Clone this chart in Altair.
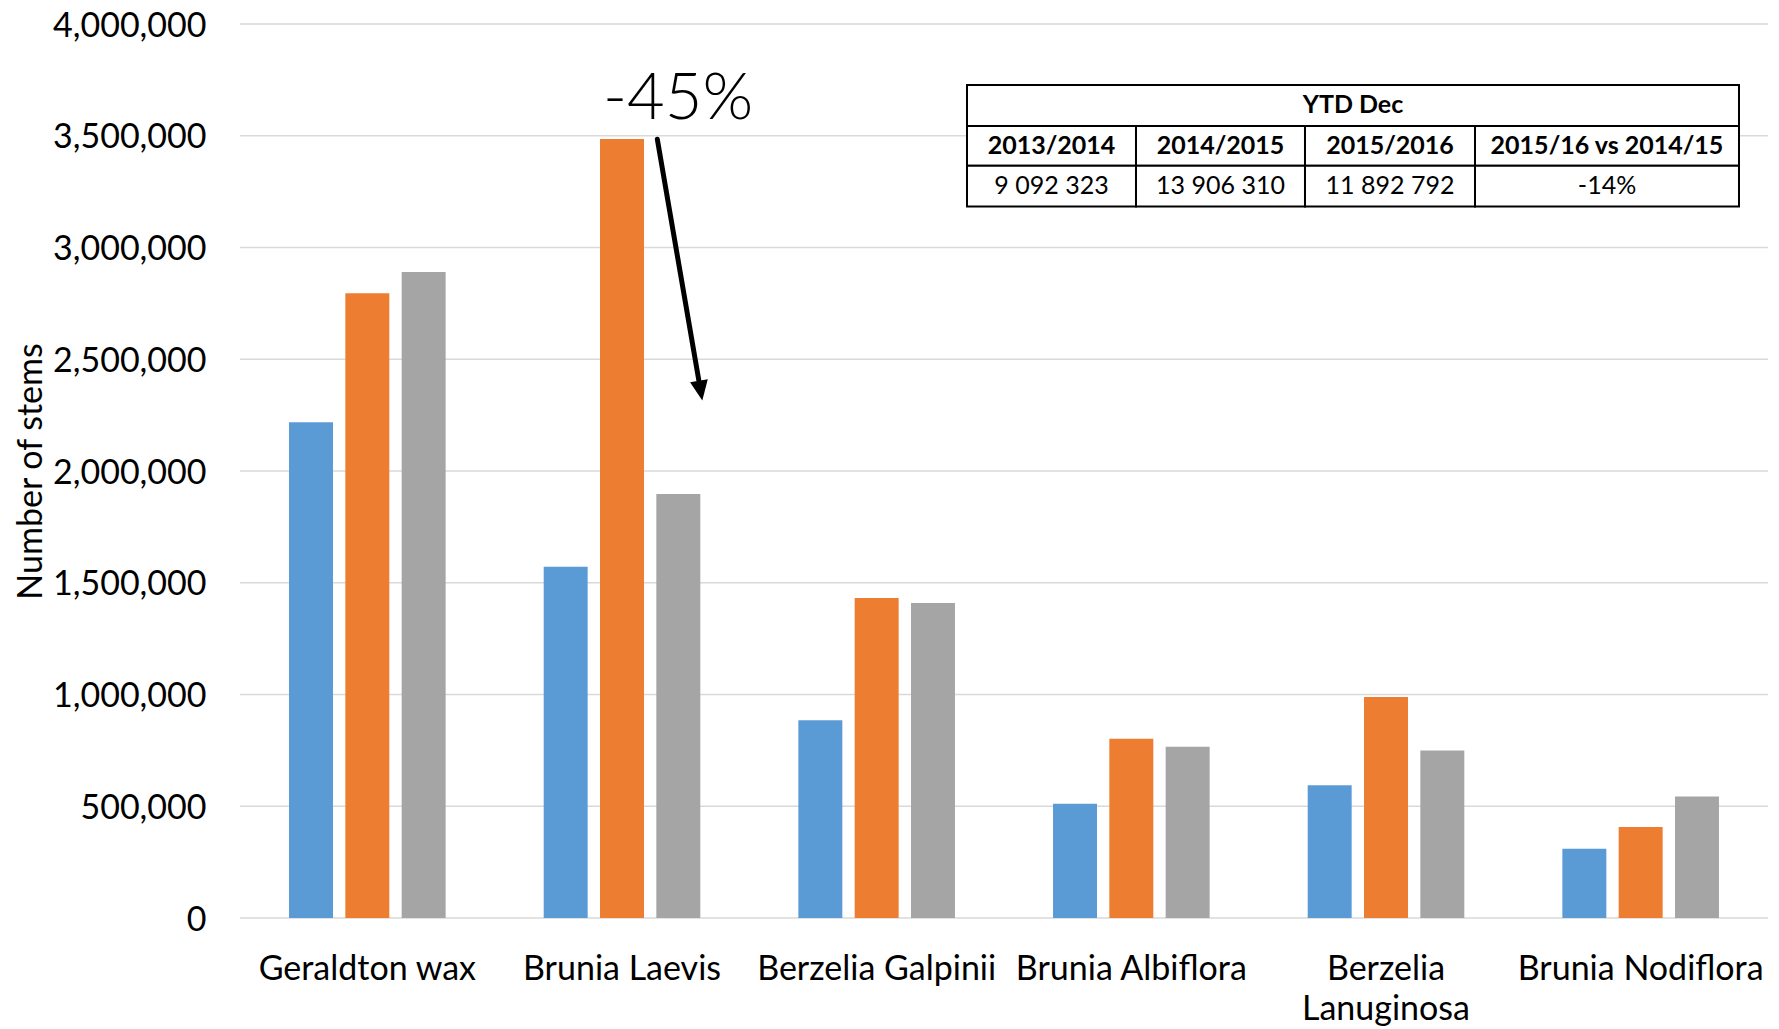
import altair as alt
import pandas as pd

# ---------------- data ----------------
categories = ["Geraldton wax", "Brunia Laevis", "Berzelia Galpinii",
              "Brunia Albiflora", "Berzelia Lanuginosa", "Brunia Nodiflora"]
series = ["2013/2014", "2014/2015", "2015/2016"]
values_1314 = [2218000, 1572000, 885000, 511000, 594000, 310000]
values_1415 = [2795000, 3485000, 1432000, 802000, 989000, 407000]
values_1516 = [2890000, 1897000, 1409000, 766000, 750000, 544000]
colors = ["#5b9bd5", "#ed7d31", "#a5a5a5"]
y_ticks = [0, 500000, 1000000, 1500000, 2000000, 2500000, 3000000, 3500000, 4000000]

table_title = "YTD Dec"
table_headers = ["2013/2014", "2014/2015", "2015/2016", "2015/16 vs 2014/15"]
table_values = ["9 092 323", "13 906 310", "11 892 792", "-14%"]
arrow_label = "-45%"

# ---------------- layout (annotation positions, in category units / data units) ----------------
col_edges = [2.8547, 3.5183, 4.1819, 4.8495, 5.8861]
row_edges = [3727400, 3544100, 3365400, 3183500]
arrow_start = (1.6386, 3484700)
arrow_base = (1.8020, 2403100)
arrow_head = (1.8087, 2359300)
arrow_text = (1.7199, 3574000)

FONT = "Lato"
W, H = 1528, 894
NO_VIEW = alt.ViewBackground(stroke="transparent", strokeWidth=0)

rows = []
for c, v1, v2, v3 in zip(categories, values_1314, values_1415, values_1516):
    for s, v in zip(series, [v1, v2, v3]):
        rows.append({"category": c, "series": s, "value": v})
df = pd.DataFrame(rows)

ax_scale = alt.Scale(domain=[0, 6], nice=False, zero=False)
ay_scale = alt.Scale(domain=[0, 4000000], nice=False)

# horizontal gridlines at the tick values
grid_df = pd.DataFrame({"v": y_ticks, "g0": 0.0, "g1": float(len(categories))})
grid = alt.Chart(grid_df).mark_rule(color="#d9d9d9", strokeWidth=1.5).encode(
    x=alt.X("g0:Q", scale=ax_scale, axis=None),
    x2="g1:Q",
    y=alt.Y("v:Q", scale=ay_scale, axis=None),
)

bars = alt.Chart(df).mark_bar().encode(
    x=alt.X("category:N", sort=categories,
            scale=alt.Scale(paddingInner=0.385, paddingOuter=0.1925),
            axis=alt.Axis(title=None, labelAngle=0, labelFont=FONT, labelFontSize=34,
                          labelColor="#000000", labelPadding=34, labelBaseline="top",
                          labelLineHeight=40, labelLimit=0, labelOverlap=False,
                          ticks=False, domain=False, grid=False,
                          labelExpr="datum.label == 'Berzelia Lanuginosa' ? ['Berzelia', 'Lanuginosa'] : datum.label")),
    xOffset=alt.XOffset("series:N", sort=series,
                        scale=alt.Scale(paddingInner=0.219, paddingOuter=0)),
    y=alt.Y("value:Q", scale=alt.Scale(domain=[0, 4000000], nice=False),
            axis=alt.Axis(title="Number of stems", values=y_ticks,
                          format=",d", labelFont=FONT, labelFontSize=34, labelColor="#000000",
                          labelPadding=34, labelOffset=2, ticks=False, domain=False, grid=False,
                          titleFont=FONT, titleFontSize=34, titleFontWeight="normal",
                          titleColor="#000000", titleAngle=-90, titleX=-199, titleY=H / 2,
                          titleBaseline="alphabetic", titleAlign="center")),
    color=alt.Color("series:N", sort=series,
                    scale=alt.Scale(domain=series, range=colors), legend=None),
)

# arrow
arrow_df = pd.DataFrame([{"x": arrow_start[0], "y": arrow_start[1],
                          "x2": arrow_base[0], "y2": arrow_base[1]}])
arrow_line = alt.Chart(arrow_df).mark_rule(color="#000000", strokeWidth=5, strokeCap="round").encode(
    x=alt.X("x:Q", scale=ax_scale, axis=None),
    x2="x2:Q",
    y=alt.Y("y:Q", scale=ay_scale, axis=None),
    y2="y2:Q",
)
head_df = pd.DataFrame([{"x": arrow_head[0], "y": arrow_head[1]}])
arrow_tip = alt.Chart(head_df).mark_point(
    shape="M0,1L-0.9,-1L0.9,-1Z", size=400, filled=True, color="#000000",
    opacity=1, strokeWidth=0, angle=350.24).encode(
    x=alt.X("x:Q", scale=ax_scale, axis=None),
    y=alt.Y("y:Q", scale=ay_scale, axis=None),
)
label_df = pd.DataFrame([{"x": arrow_text[0], "y": arrow_text[1], "t": arrow_label}])
arrow_txt = alt.Chart(label_df).mark_text(
    font=FONT, fontSize=65, fontWeight=300, color="#000000",
    align="center", baseline="alphabetic").encode(
    x=alt.X("x:Q", scale=ax_scale, axis=None),
    y=alt.Y("y:Q", scale=ay_scale, axis=None),
    text="t:N",
)

# table
cells = [{"x": col_edges[0], "x2": col_edges[-1], "y": row_edges[0], "y2": row_edges[1],
          "t": table_title, "w": "bold"}]
for i in range(4):
    cells.append({"x": col_edges[i], "x2": col_edges[i + 1], "y": row_edges[1], "y2": row_edges[2],
                  "t": table_headers[i], "w": "bold"})
    cells.append({"x": col_edges[i], "x2": col_edges[i + 1], "y": row_edges[2], "y2": row_edges[3],
                  "t": table_values[i], "w": "normal"})
cells_df = pd.DataFrame(cells)
cells_df["cx"] = (cells_df["x"] + cells_df["x2"]) / 2
cells_df["cy"] = (cells_df["y"] + cells_df["y2"]) / 2

table_rect = alt.Chart(cells_df).mark_rect(fill="#ffffff", stroke="#000000", strokeWidth=2).encode(
    x=alt.X("x:Q", scale=ax_scale, axis=None),
    x2="x2:Q",
    y=alt.Y("y:Q", scale=ay_scale, axis=None),
    y2="y2:Q",
)
table_bold = alt.Chart(cells_df[cells_df["w"] == "bold"]).mark_text(
    font=FONT, fontSize=25, fontWeight="bold", color="#000000",
    align="center", baseline="middle").encode(
    x=alt.X("cx:Q", scale=ax_scale, axis=None),
    y=alt.Y("cy:Q", scale=ay_scale, axis=None),
    text="t:N",
)
table_norm = alt.Chart(cells_df[cells_df["w"] == "normal"]).mark_text(
    font=FONT, fontSize=25, color="#000000",
    align="center", baseline="middle").encode(
    x=alt.X("cx:Q", scale=ax_scale, axis=None),
    y=alt.Y("cy:Q", scale=ay_scale, axis=None),
    text="t:N",
)

chart = alt.layer(
    grid, bars, arrow_line, arrow_tip, arrow_txt, table_rect, table_bold, table_norm
).resolve_scale(x="independent", y="independent").resolve_axis(
    x="independent", y="independent"
).properties(
    width=W, height=H,
    view=NO_VIEW,
    autosize=alt.AutoSizeParams(type="none"),
    padding={"left": 232, "top": 16, "right": 3, "bottom": 108},
).configure_view(stroke="transparent", strokeWidth=0).configure_axis(
    domain=False, grid=False
).configure(background="#ffffff")

chart.save("out.html", embed_options={"renderer": "svg", "actions": False})
